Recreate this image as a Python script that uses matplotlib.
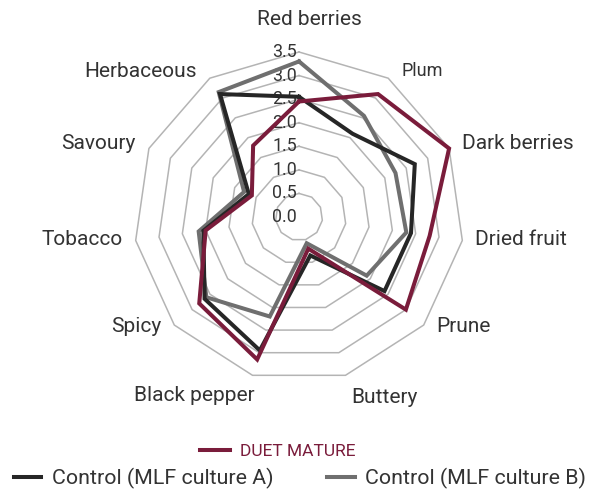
import numpy as np
import matplotlib
matplotlib.use("Agg")
import matplotlib.pyplot as plt
from matplotlib.lines import Line2D

# ---- data ----
categories = ["Red berries", "Plum", "Dark berries", "Dried fruit", "Prune", "Buttery",
              "Black pepper", "Spicy", "Tobacco", "Savoury", "Herbaceous"]
duet_mature = [2.45, 3.1, 3.5, 2.8, 3.0, 0.7, 3.15, 2.8, 2.0, 1.1, 1.8]
control_a = [2.55, 2.1, 2.7, 2.4, 2.4, 0.85, 2.95, 2.65, 2.05, 1.17, 3.1]
control_b = [3.3, 2.55, 2.25, 2.3, 1.9, 0.58, 2.2, 2.6, 2.15, 1.28, 3.15]
ring_values = [0.0, 0.5, 1.0, 1.5, 2.0, 2.5, 3.0, 3.5]

C_DUET = "#7a1c3b"
C_A = "#262626"
C_B = "#6f6f6f"
C_GRID = "#b4b4b4"
C_TEXT = "#333333"

plt.rcParams["font.family"] = ["Roboto", "DejaVu Sans"]

n = len(categories)
theta = 2 * np.pi * np.arange(n) / n
closed = lambda v: np.r_[v, v[:1]]

fig = plt.figure(figsize=(5.96, 4.92), dpi=100)
ax = fig.add_axes([0.22483, 0.22358, 0.5537, 0.67073], projection="polar")
ax.set_theta_zero_location("N")
ax.set_theta_direction(-1)
ax.set_ylim(0, 3.5)
ax.grid(False)
ax.spines["polar"].set_visible(False)
ax.set_xticks([]); ax.set_yticks([])
ax.patch.set_alpha(0)

# polygon rings
for r in ring_values[1:]:
    ax.plot(closed(theta), np.full(n + 1, r), color=C_GRID, lw=1.1, zorder=1, clip_on=False)

# series: B under A under Duet
for vals, col in [(control_b, C_B), (control_a, C_A), (duet_mature, C_DUET)]:
    ax.plot(closed(theta), closed(np.array(vals)), color=col, lw=2.9, zorder=3,
            solid_joinstyle="miter", clip_on=False)

# radial value labels along the top axis
for r in ring_values:
    ax.annotate(f"{r:.1f}", xy=(0, r), xytext=(-1.5, 0), textcoords="offset points",
                ha="right", va="center", fontsize=12.8, color=C_TEXT, zorder=2,
                annotation_clip=False)

# category labels
PX = 0.72
for t, name in zip(theta, categories):
    c, s = np.sin(t), np.cos(t)   # screen x / y direction of the spoke
    if abs(c) < 0.1:
        off, ha = (10, 32), "center"
    elif abs(c) < 0.3:
        off, ha = ((6, -22), "left") if c > 0 else ((2, -20), "right")
    else:
        off, ha = (13 * np.sign(c), 2 + 6 * s), ("left" if c > 0 else "right")
    ax.annotate(name, xy=(t, 3.5), xytext=(off[0] * PX, off[1] * PX),
                textcoords="offset points", ha=ha, va="center",
                fontsize=13 if name == "Plum" else 15,
                color=C_TEXT, annotation_clip=False)

# legends
h_duet = [Line2D([], [], color=C_DUET, lw=2.9)]
leg1 = fig.legend(h_duet, ["DUET MATURE"], loc="center", bbox_to_anchor=(0.466, 0.083),
                  frameon=False, handlelength=1.75, handletextpad=0.6,
                  prop={"size": 12.5})
for txt in leg1.get_texts():
    txt.set_color(C_DUET)
h_ctrl = [Line2D([], [], color=C_A, lw=2.9), Line2D([], [], color=C_B, lw=2.9)]
fig.legend(h_ctrl, ["Control (MLF culture A)", "Control (MLF culture B)"], loc="center",
           bbox_to_anchor=(0.503, 0.027), ncol=2, frameon=False, handlelength=1.3,
           handletextpad=0.48, columnspacing=2.5, prop={"size": 15.4}, labelcolor=C_TEXT)

fig.savefig("out.png", dpi=100)
